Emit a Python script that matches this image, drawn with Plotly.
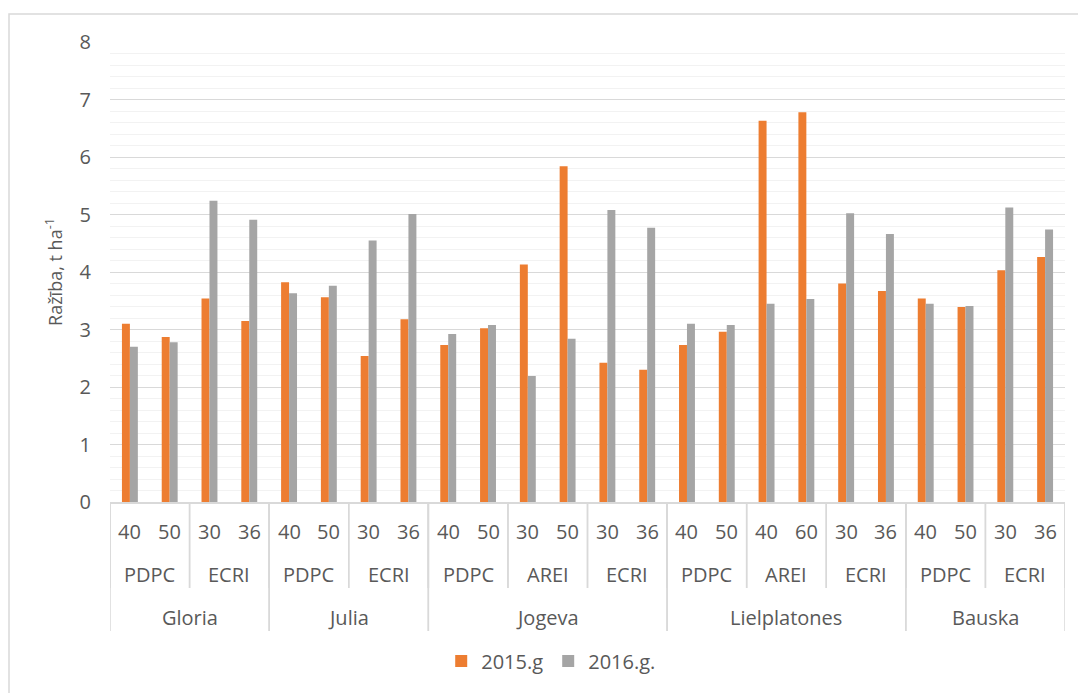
import plotly.graph_objects as go

# Category hierarchy (innermost to outermost)
rates = ["40", "50", "30", "36",
         "40", "50", "30", "36",
         "40", "50", "30", "50", "30", "36",
         "40", "50", "40", "60", "30", "36",
         "40", "50", "30", "36"]
institutes = ["PDPC", "PDPC", "ECRI", "ECRI",
              "PDPC", "PDPC", "ECRI", "ECRI",
              "PDPC", "PDPC", "AREI", "AREI", "ECRI", "ECRI",
              "PDPC", "PDPC", "AREI", "AREI", "ECRI", "ECRI",
              "PDPC", "PDPC", "ECRI", "ECRI"]
varieties = ["Gloria"] * 4 + ["Julia"] * 4 + ["Jogeva"] * 6 + ["Lielplatones"] * 6 + ["Bauska"] * 4

# Yield, t/ha
yield_2015 = [3.10, 2.87, 3.54, 3.15,
              3.82, 3.56, 2.54, 3.18,
              2.73, 3.02, 4.13, 5.84, 2.42, 2.30,
              2.73, 2.96, 6.63, 6.78, 3.80, 3.67,
              3.54, 3.39, 4.03, 4.26]
yield_2016 = [2.70, 2.78, 5.24, 4.91,
              3.63, 3.76, 4.55, 5.01,
              2.92, 3.08, 2.19, 2.84, 5.08, 4.77,
              3.10, 3.08, 3.45, 3.53, 5.02, 4.66,
              3.45, 3.41, 5.12, 4.74]

series_names = ["2015.g", "2016.g."]
series_colors = ["#ED7D31", "#A5A5A5"]

FONT = "Open Sans"
FS = 20
TXT = "#595959"
GRID = "#d9d9d9"

W, H = 1078, 693
ML, MR, MT, MB = 110, 13, 42, 191
PH = H - MT - MB  # plot height in px
PW = W - ML - MR

idx = list(range(len(rates)))

fig = go.Figure()
for name, vals, col in zip(series_names, [yield_2015, yield_2016], series_colors):
    fig.add_trace(go.Bar(x=idx, y=vals, name=name, marker=dict(color=col, line=dict(width=0))))


def px_to_paper_y(px_below_axis):
    return -px_below_axis / PH


def runs(labels, keys):
    """Contiguous runs of identical keys -> (start, end, label)."""
    out = []
    start = 0
    for i in range(1, len(keys) + 1):
        if i == len(keys) or keys[i] != keys[start]:
            out.append((start, i - 1, labels[start]))
            start = i
    return out


annotations = []
shapes = []
label_font = dict(family=FONT, size=FS, color=TXT)

# level 1: rates
for i, r in enumerate(rates):
    annotations.append(dict(x=i, y=0, xref="x", yref="paper", text=r, showarrow=False,
                            yanchor="middle", yshift=-29, font=label_font))

# level 2: institutes (grouped within variety)
inst_group_keys = []
g = 0
for k in range(len(institutes)):
    if k > 0 and (institutes[k] != institutes[k - 1] or varieties[k] != varieties[k - 1]):
        g += 1
    inst_group_keys.append(g)
for s, e, lab in runs(institutes, inst_group_keys):
    annotations.append(dict(x=(s + e) / 2, y=0, xref="x", yref="paper", text=lab, showarrow=False,
                            yanchor="middle", yshift=-72, font=label_font))
    for edge in (s - 0.5, e + 0.5):
        shapes.append(dict(type="line", xref="x", yref="paper", x0=edge, x1=edge,
                           y0=0, y1=px_to_paper_y(86), line=dict(color=GRID, width=1.5)))

# level 3: varieties
for s, e, lab in runs(varieties, varieties):
    annotations.append(dict(x=(s + e) / 2, y=0, xref="x", yref="paper", text=lab, showarrow=False,
                            yanchor="middle", yshift=-115, font=label_font))
    for edge in (s - 0.5, e + 0.5):
        shapes.append(dict(type="line", xref="x", yref="paper", x0=edge, x1=edge,
                           y0=0, y1=px_to_paper_y(129), line=dict(color=GRID, width=1.5)))

# chart-area frame
shapes.append(dict(type="rect", xref="paper", yref="paper",
                   x0=(9 - ML) / PW, x1=1.2, y0=-0.6, y1=(PH + MT - 14) / PH,
                   line=dict(color=GRID, width=1.5), fillcolor="rgba(0,0,0,0)", layer="below"))

fig.update_layout(
    width=W, height=H,
    margin=dict(l=ML, r=MR, t=MT, b=MB),
    paper_bgcolor="white", plot_bgcolor="white",
    barmode="group", bargap=0.6, bargroupgap=0,
    font=dict(family=FONT, size=FS, color=TXT),
    showlegend=True,
    legend=dict(orientation="h", x=0.462, xanchor="center", y=px_to_paper_y(159), yanchor="middle",
                font=dict(family=FONT, size=FS, color=TXT), traceorder="normal",
                itemwidth=30, bgcolor="rgba(0,0,0,0)"),
    annotations=annotations,
    shapes=shapes,
    xaxis=dict(range=[-0.5, len(rates) - 0.5], showticklabels=False, ticks="",
               showgrid=False, zeroline=False, showline=True, linecolor=GRID, linewidth=1.5,
               fixedrange=True),
    yaxis=dict(range=[0, 8], dtick=1, tick0=0, showgrid=True, gridcolor=GRID, gridwidth=1.3,
               zeroline=False, showline=False, ticks="", ticklabelstandoff=18,
               tickfont=dict(family=FONT, size=FS, color=TXT),
               minor=dict(dtick=0.2, showgrid=True, gridcolor="#f2f2f2", gridwidth=1.3),
               title=dict(text="Ražība, t ha<sup>-1</sup>", font=dict(family=FONT, size=18, color=TXT),
                          standoff=12),
               fixedrange=True),
)

fig.write_html("out.html")
